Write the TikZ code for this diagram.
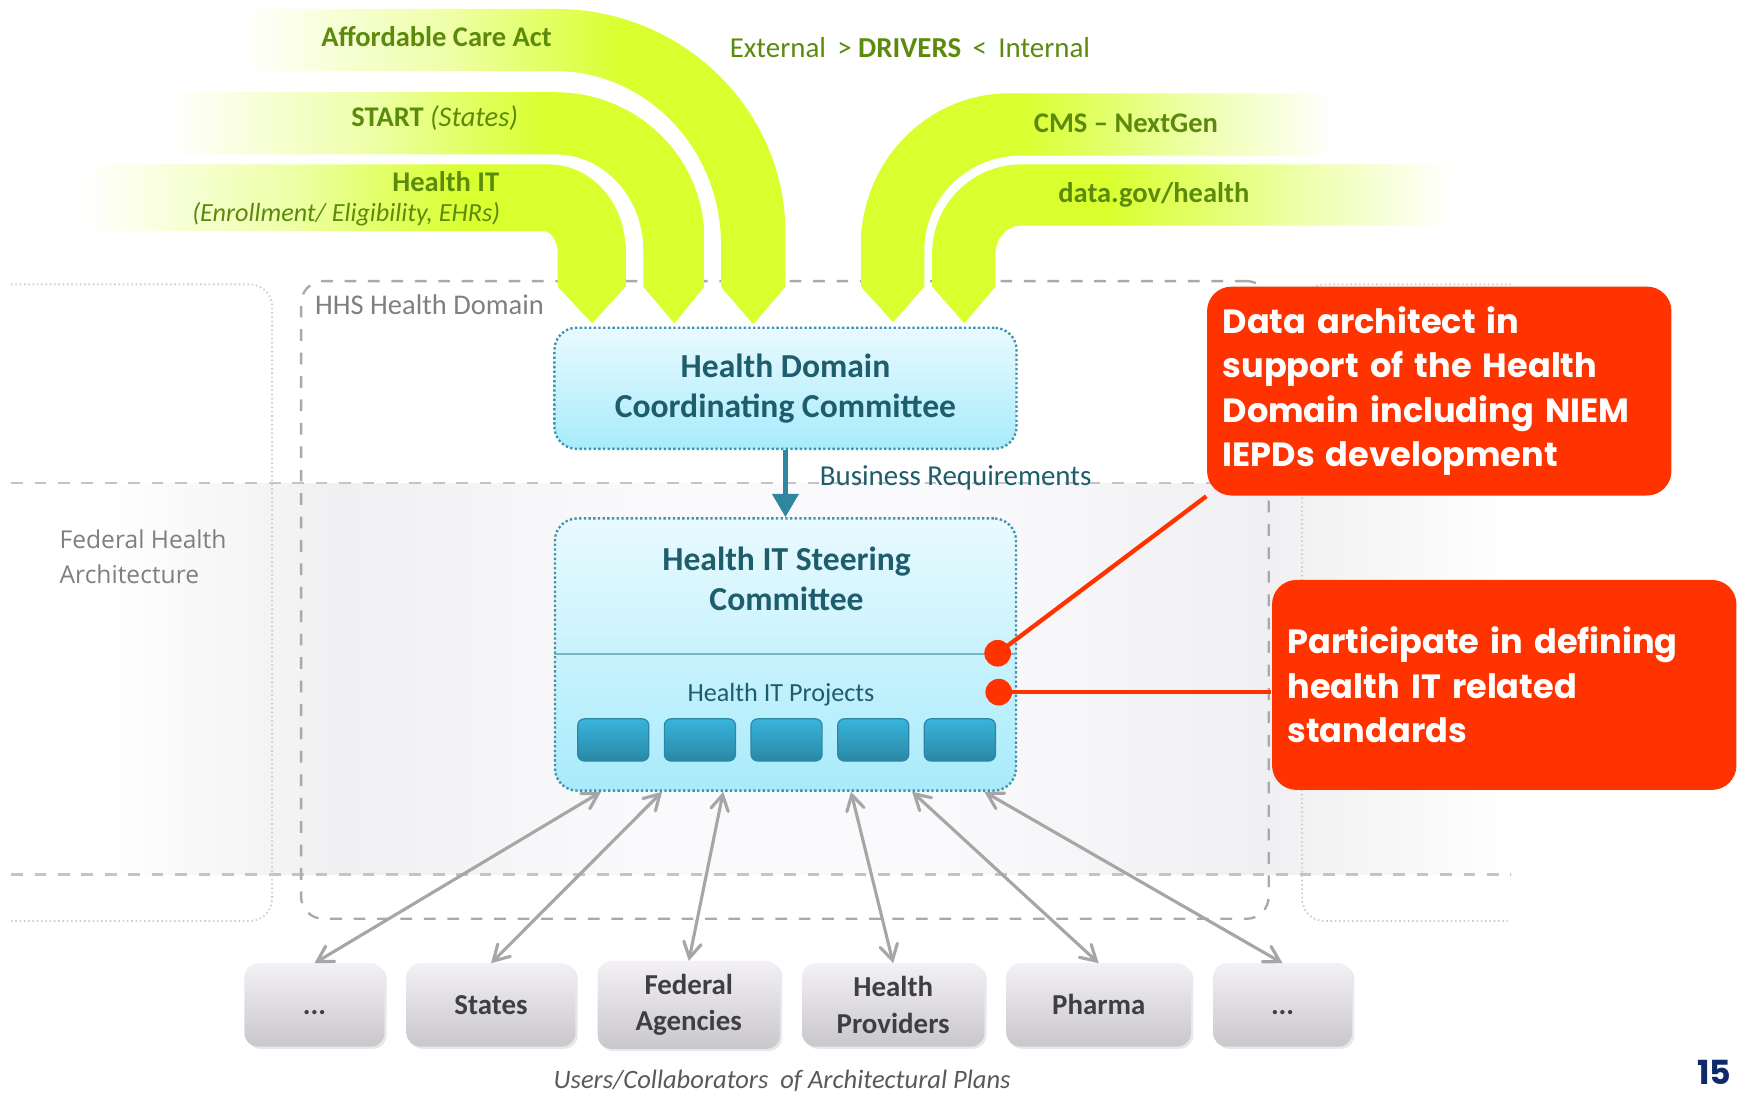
\documentclass[tikz,border=0pt]{standalone}
\usepackage{fontspec}
\setmainfont{Carlito}
\newfontfamily\gothicfont{Poppins}
\newfontfamily\fhafont{Open Sans}
\usetikzlibrary{arrows, arrows.meta, positioning, shapes.misc, shadows}

\definecolor{drvgreen}{HTML}{D9FF2F}
\definecolor{drvlight}{HTML}{EEFFA8}
\definecolor{drvtext}{HTML}{5C8A0C}
\definecolor{hdtext}{HTML}{1E5D6C}
\definecolor{hdborder}{HTML}{3C94AE}
\definecolor{boxtop}{HTML}{E9FAFF}
\definecolor{boxbot}{HTML}{A8EBFB}
\definecolor{projtop}{HTML}{38B4DC}
\definecolor{projbot}{HTML}{2B87A5}
\definecolor{bizteal}{HTML}{2E86A0}
\definecolor{callred}{HTML}{FF3300}
\definecolor{usertop}{HTML}{F3F1F5}
\definecolor{userbot}{HTML}{C9C7CC}
\definecolor{usertext}{HTML}{3F3F3F}
\definecolor{linkgray}{HTML}{A6A6A6}
\definecolor{labelgray}{HTML}{7F7F7F}
\definecolor{captiongray}{HTML}{595959}
\definecolor{pagenavy}{HTML}{0D2A6A}
\definecolor{bandgray}{HTML}{F0EFF1}
\definecolor{bandlight}{HTML}{FAF9FB}
\definecolor{regiongray}{HTML}{A9A9A9}
\definecolor{sidegray}{HTML}{CFCFCF}
\definecolor{linegray}{HTML}{C4C4C4}

% fading bands for the drivers and the federal band
\pgfdeclarehorizontalshading{bandL}{100bp}{color(0bp)=(white); color(25bp)=(white); color(44bp)=(drvlight); color(60bp)=(drvgreen); color(100bp)=(drvgreen)}
\pgfdeclarehorizontalshading{bandR}{100bp}{color(0bp)=(drvgreen); color(42bp)=(drvgreen); color(60bp)=(drvlight); color(75bp)=(white); color(100bp)=(white)}
\pgfdeclarehorizontalshading{fhaband}{100bp}{color(0bp)=(white); color(28bp)=(white); color(36bp)=(bandgray); color(46bp)=(bandlight); color(56bp)=(bandlight); color(67bp)=(bandgray); color(75bp)=(white); color(100bp)=(white)}

\tikzstyle{committee} = [rectangle, rounded corners=2mm, draw=hdborder, line width=0.6pt, dash pattern=on 0.6pt off 0.6pt, top color=boxtop, bottom color=boxbot, text=hdtext, align=center, font=\fontsize{8.6}{10.2}\selectfont\bfseries]
\tikzstyle{ctitle} = [text=hdtext, align=center, font=\fontsize{8.6}{10.2}\selectfont\bfseries]
\tikzstyle{project} = [rectangle, rounded corners=0.6mm, draw=projbot, line width=0.3pt, top color=projtop, bottom color=projbot, minimum width=6.4mm, minimum height=3.8mm, outer sep=0pt]
\tikzstyle{divider} = [draw=hdborder!70, line width=0.4pt]
\tikzstyle{note} = [rectangle, rounded corners=2.2mm, fill=callred, text=white, align=left, inner xsep=1.4mm, text width=39mm, font=\gothicfont\fontsize{8.6}{11.4}\selectfont\bfseries]
\tikzstyle{reddot} = [circle, fill=callred, minimum size=2.4mm, inner sep=0pt]
\tikzstyle{callout} = [draw=callred, line width=1.1pt]
\tikzstyle{user} = [rectangle, rounded corners=1.2mm, top color=usertop, bottom color=userbot, text=usertext, align=center, minimum height=7.5mm, outer sep=0pt, font=\fontsize{7.4}{9.4}\selectfont\bfseries, drop shadow={opacity=0.18, shadow xshift=0.2mm, shadow yshift=-0.2mm}]
\tikzstyle{link} = [<->, >=angle 60, draw=linkgray, line width=0.8pt]
\tikzstyle{bizarrow} = [-{Triangle[width=2.3mm,length=2.1mm]}, draw=bizteal, line width=1.3pt]
\tikzstyle{drvlabel} = [text=drvtext, inner sep=0pt, font=\fontsize{7.3}{9}\selectfont\bfseries]
\tikzstyle{region} = [draw=regiongray, dashed, line width=0.6pt, rounded corners=2mm]
\tikzstyle{sideregion} = [draw=sidegray, dash pattern=on 0.4pt off 0.7pt, line width=0.5pt, rounded corners=2mm]
\tikzstyle{bandline} = [draw=linegray, dashed, line width=0.6pt]

\begin{document}
\begin{tikzpicture}[x=0.1mm, y=-0.1mm]
\useasboundingbox (0,0) rectangle (1568,985);

%% federal band and regions
\shade [shading=fhaband] (10,435) rectangle (1360,787);
\draw [bandline] (10,435) -- (1360,435);
\draw [bandline] (10,787) -- (1360,787);
\draw [sideregion] (10,256) -- (245,256) -- (245,829) -- (10,829);
\draw [sideregion] (1360,256) -- (1172,256) -- (1172,829) -- (1360,829);
\node (hhs) [region, minimum width=87.1mm, minimum height=57.4mm] at (706.5,540) {};
\node (hhslabel) [anchor=west, inner sep=0pt, text=labelgray, font=\fontsize{7.3}{9}\selectfont] at (283,274) {HHS Health Domain};
\node (fhalabel) [anchor=west, inner sep=0pt, align=left, text=labelgray, font=\fhafont\fontsize{6.3}{8.8}\selectfont] at (53,501) {Federal Health\\Architecture};

%% drivers
\shade [shading=bandL] (215,8) -- (500,8) .. controls (614,8) and (707,98) .. (707,210) -- (707,258) -- (678,292) -- (649,258) -- (649,220) .. controls (649,134) and (582,64) .. (500,64) -- (215,64) -- cycle;
\shade [shading=bandL] (150,83) -- (500,83) .. controls (574,83) and (634,142) .. (634,215) -- (634,258) -- (607,291) -- (579,258) -- (579,225) .. controls (579,178) and (544,139) .. (500,139) -- (150,139) -- cycle;
\shade [shading=bandL] (75,148) -- (494,148) .. controls (532,148) and (563,182) .. (563,225) -- (563,258) -- (533,291) -- (502,258) -- (502,228) .. controls (502,217) and (496,208) .. (489,208) -- (75,208) -- cycle;
\shade [shading=bandR] (1200,84) -- (908,84) .. controls (835,84) and (775,145) .. (775,220) -- (775,258) -- (804,290) -- (832,258) -- (832,225) .. controls (832,178) and (871,140) .. (919,140) -- (1200,140) -- cycle;
\shade [shading=bandR] (1308,148) -- (919,148) .. controls (875,148) and (839,184) .. (839,228) -- (839,258) -- (868,291) -- (896,258) -- (896,228) .. controls (896,215) and (906,203) .. (919,203) -- (1308,203) -- cycle;

\node (aca) [drvlabel] at (393,33) {Affordable Care Act};
\node (startlabel) [drvlabel, anchor=east] at (467,106) {START \textit{\mdseries(States)}};
\node (hit) [drvlabel, anchor=east] at (450,163) {Health IT};
\node (hitsub) [drvlabel, anchor=east, font=\fontsize{6.7}{9}\selectfont\itshape] at (451,193) {(Enrollment/ Eligibility, EHRs)};
\node (cms) [drvlabel, anchor=west] at (930,111) {CMS -- NextGen};
\node (datagov) [drvlabel, anchor=west] at (952,175) {data.gov/health};
\node (drivers) [text=drvtext, font=\fontsize{7.4}{9}\selectfont] at (819,43) {External \,> \textbf{DRIVERS} \,<\, Internal};

%% committees
\node (hdcc) [committee, minimum width=41.6mm, minimum height=10.9mm] at (707,349.5) {Health Domain\\Coordinating Committee};
\node (steer) [committee, minimum width=41.5mm, minimum height=24.5mm, below=6.05mm of hdcc] {};
\node (steertitle) [ctitle] at (708,521) {Health IT Steering\\Committee};
\draw [divider] ([yshift=-12.3mm]steer.north west) -- ([yshift=-12.3mm]steer.north east);
\node (projects) [text=hdtext, font=\fontsize{6.7}{8}\selectfont] at (703,625) {Health IT Projects};
\node (p1) [project] at (552,666) {};
\node (p2) [project, right=1.4mm of p1] {};
\node (p3) [project, right=1.4mm of p2] {};
\node (p4) [project, right=1.4mm of p3] {};
\node (p5) [project, right=1.4mm of p4] {};

\draw [bizarrow] (hdcc.south) -- node[right=1.7mm, yshift=0.5mm, text=hdtext, font=\fontsize{7.4}{9}\selectfont] {Business Requirements} (steer.north);

%% callouts
\node (note1) [note, minimum height=18.8mm] at (1295.5,352) {Data architect in\\support of the Health\\Domain including NIEM\\IEPDs development};
\node (note2) [note, minimum height=18.9mm] at (1354,616.5) {Participate in defining\\health IT related\\standards};
\node (dot1) [reddot] at (898,588) {};
\node (dot2) [reddot] at (899,623) {};
\draw [callout] (dot1.center) -- (note1.south west);
\draw [callout] (dot2.center) -- (dot2.center -| note2.west);

%% users / collaborators
\node (u1) [user, minimum width=12.6mm] at (283,904.5) {\vphantom{S}...};
\node (u2) [user, minimum width=15.2mm, right=2mm of u1] {States};
\node (u3) [user, minimum width=16.4mm, right=2mm of u2] {Federal\\Agencies};
\node (u4) [user, minimum width=16.4mm, right=2mm of u3] {Health\\Providers};
\node (u5) [user, minimum width=16.6mm, right=2mm of u4] {Pharma};
\node (u6) [user, minimum width=12.5mm, right=2mm of u5] {\vphantom{S}...};

\draw [link] ([xshift=-16.6mm]steer.south) -- (u1.north);
\draw [link] ([xshift=-11.1mm]steer.south) -- (u2.north);
\draw [link] ([xshift=-5.6mm]steer.south) -- (u3.north);
\draw [link] ([xshift=5.9mm]steer.south) -- (u4.north);
\draw [link] ([xshift=11.4mm]steer.south) -- (u5.north);
\draw [link] ([xshift=17.9mm]steer.south) -- (u6.north);

\node (caption) [text=captiongray, font=\fontsize{6.8}{8}\selectfont\itshape] at (704,973) {Users/Collaborators\ \ of Architectural Plans};
\node (pagenum) [anchor=east, inner sep=0pt, text=pagenavy, font=\gothicfont\fontsize{8.5}{10}\selectfont\bfseries] at (1559,965) {15};

\end{tikzpicture}
\end{document}
